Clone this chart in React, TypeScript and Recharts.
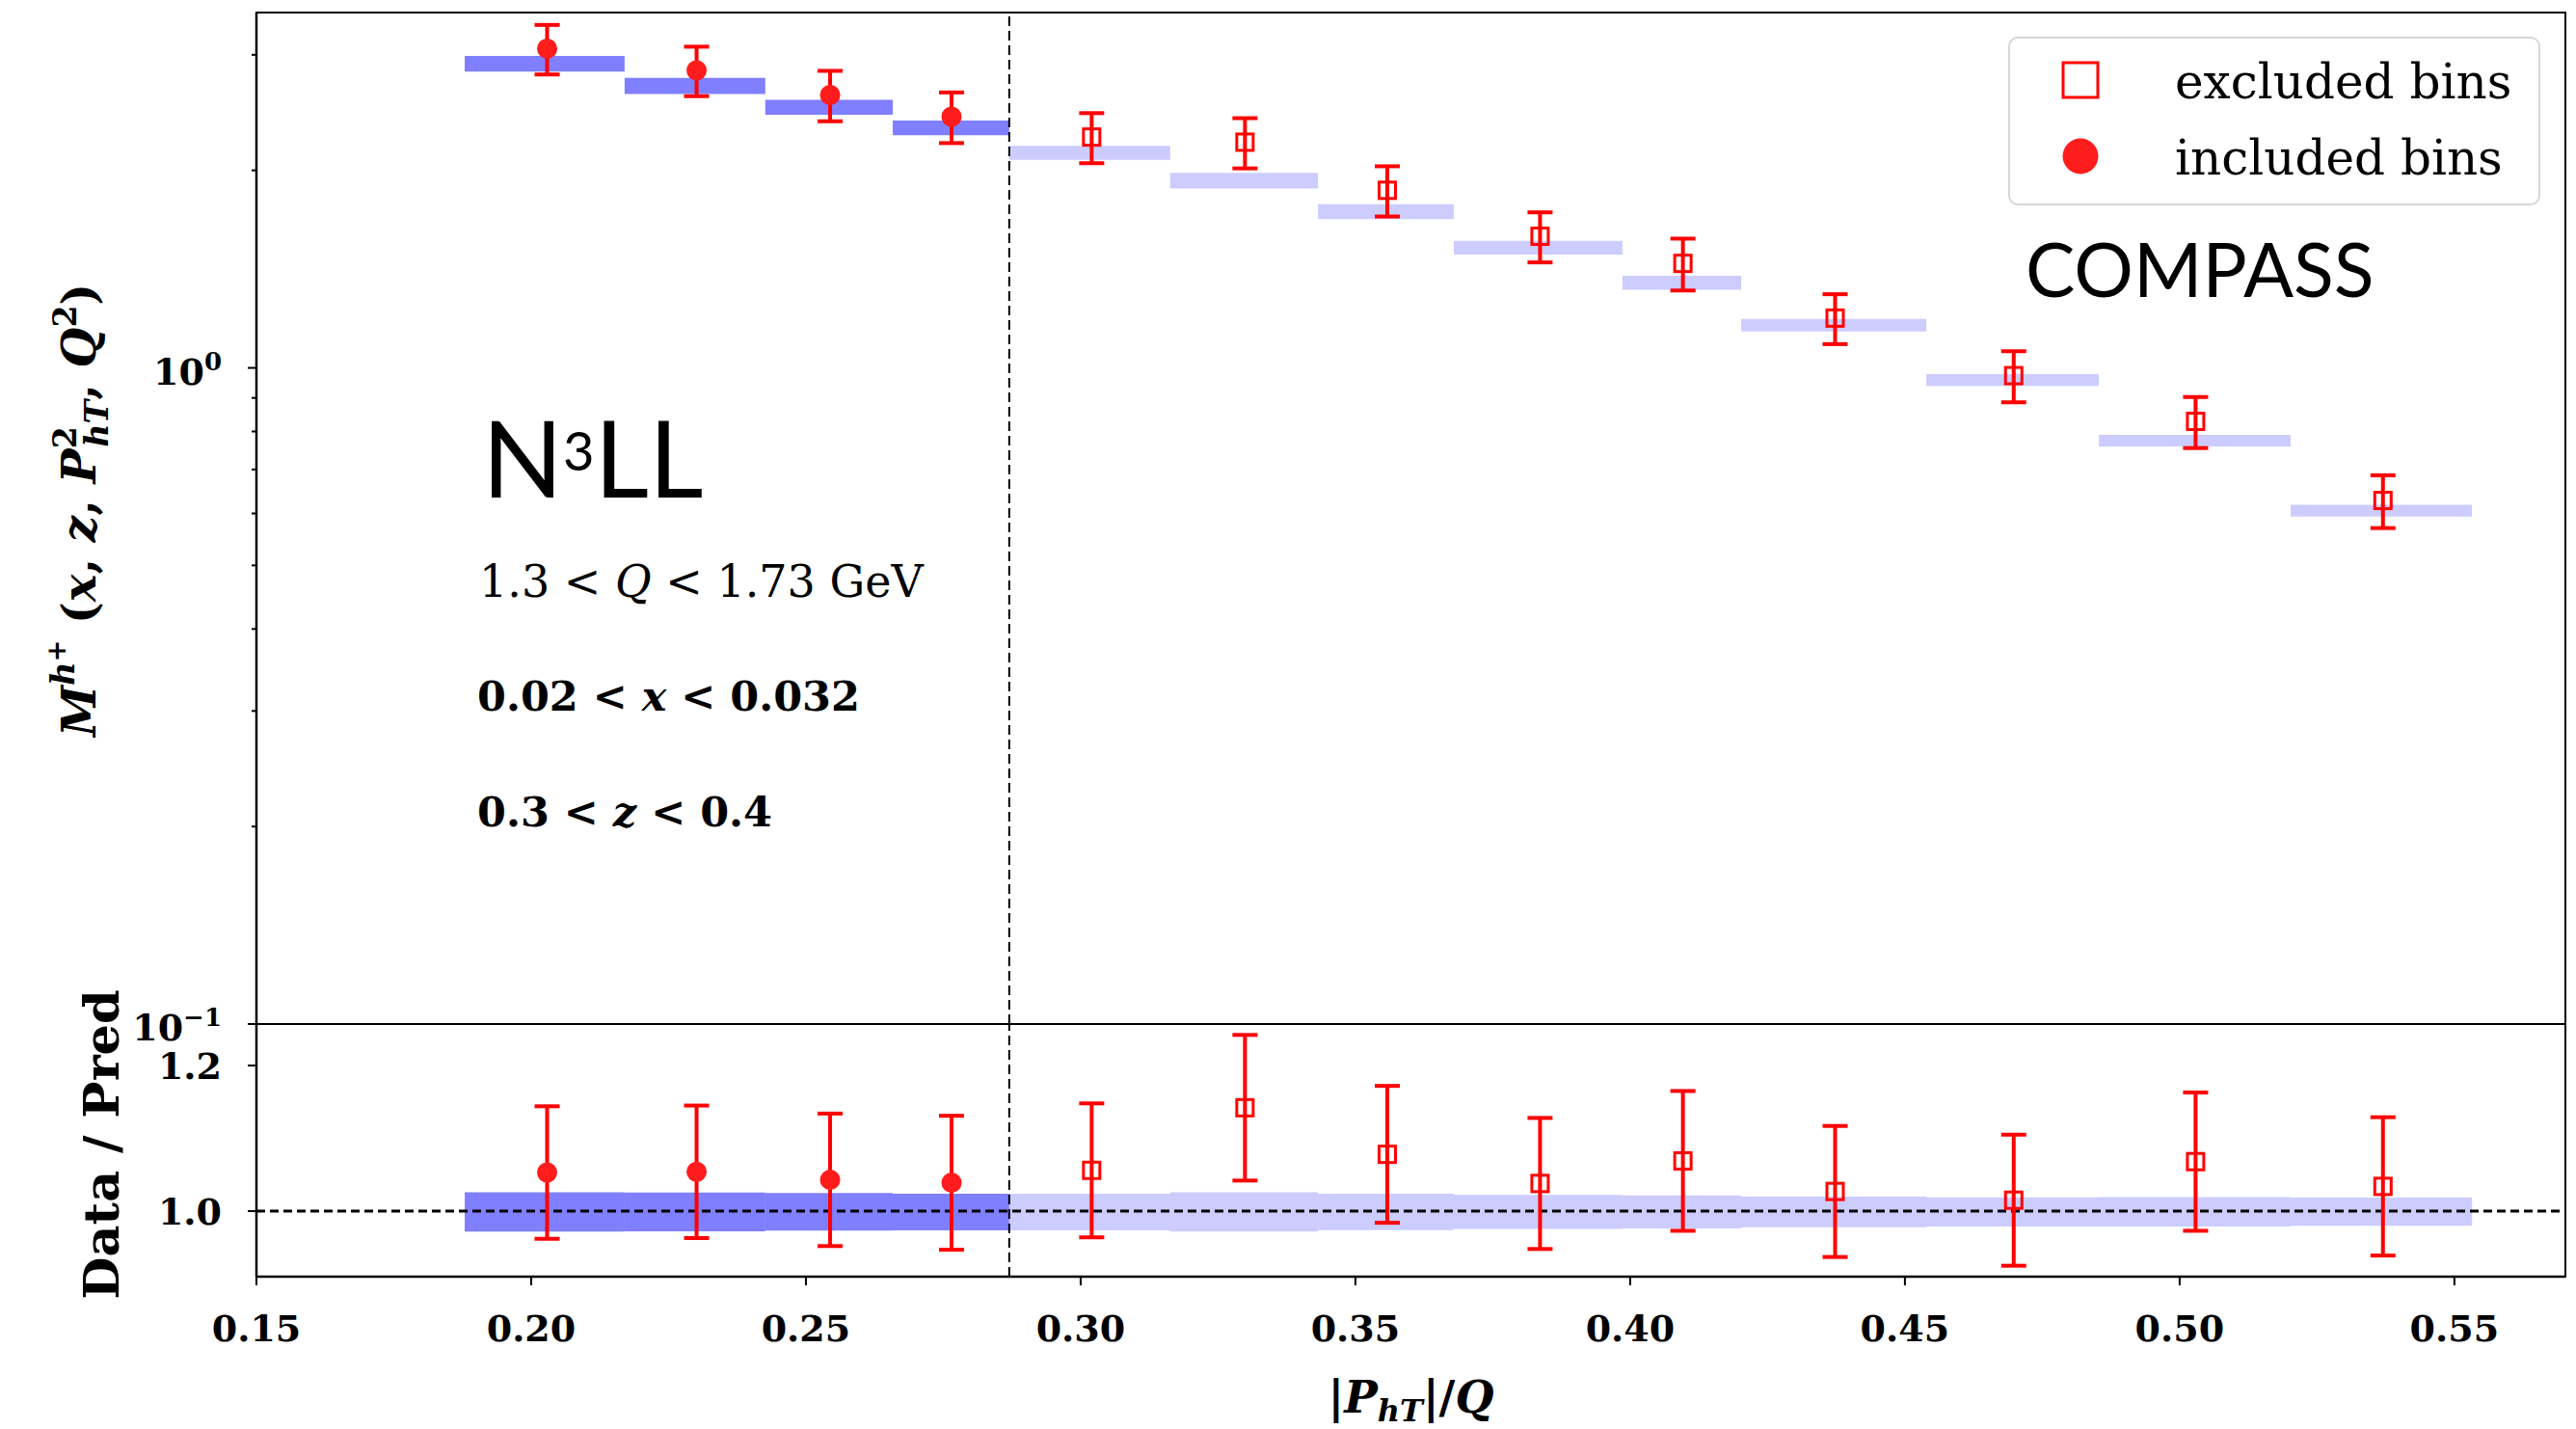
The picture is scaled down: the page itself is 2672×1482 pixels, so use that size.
import React from "react";
import {
  ComposedChart,
  Scatter,
  ErrorBar,
  XAxis,
  YAxis,
  ReferenceArea,
  ReferenceLine,
  Legend,
} from "recharts";

const WIDTH = 2672;
const HEIGHT = 1482;
const TOP_H = 1100;
const SPLIT = 1062;
const BOTTOM_H = 420;
const SERIF = "DejaVu Serif";
const SANS = "Lato";
const RED = "#ff0000";
const BLUE = "#0000ff";

const X_DOMAIN: [number, number] = [0.15, 0.5702];
const M_DOMAIN: [number, number] = [0.1, 3.48];
const R_DOMAIN: [number, number] = [0.91, 1.257];

// |P_hT|/Q bins
const binLow = [0.1879, 0.217, 0.2426, 0.2658, 0.287, 0.3163, 0.3432, 0.3679, 0.3986, 0.4202, 0.4539, 0.4853, 0.5202];
const binHigh = [0.217, 0.2426, 0.2658, 0.287, 0.3163, 0.3432, 0.3679, 0.3986, 0.4202, 0.4539, 0.4853, 0.5202, 0.5532];
const binMid = [0.2029, 0.2301, 0.2544, 0.2765, 0.302, 0.3299, 0.3558, 0.3836, 0.4096, 0.4373, 0.4698, 0.5029, 0.537];
const N_INCLUDED = 4;
const CUT = 0.287;

// multiplicity: data and prediction band
const dataM = [3.066, 2.841, 2.606, 2.415, 2.248, 2.208, 1.865, 1.587, 1.443, 1.191, 0.9732, 0.8288, 0.628];
const errM = [0.266, 0.246, 0.23, 0.214, 0.197, 0.194, 0.164, 0.139, 0.131, 0.104, 0.087, 0.074, 0.058];
const predLow = [2.828, 2.615, 2.431, 2.262, 2.075, 1.877, 1.686, 1.489, 1.315, 1.136, 0.9387, 0.759, 0.5932];
const predHigh = [2.988, 2.768, 2.563, 2.382, 2.18, 1.982, 1.776, 1.562, 1.382, 1.187, 0.9786, 0.7905, 0.6184];

// data / prediction
const ratio = [1.053, 1.054, 1.043, 1.039, 1.056, 1.142, 1.078, 1.038, 1.069, 1.027, 1.015, 1.068, 1.034];
const errRatio = [0.091, 0.091, 0.091, 0.092, 0.092, 0.1, 0.094, 0.09, 0.096, 0.09, 0.09, 0.095, 0.095];
const ratioLow = [0.9718, 0.9722, 0.9731, 0.9735, 0.9735, 0.972, 0.9739, 0.9757, 0.9762, 0.9779, 0.9788, 0.9788, 0.9797];
const ratioHigh = [1.026, 1.0256, 1.0248, 1.0238, 1.0238, 1.026, 1.0238, 1.0221, 1.0216, 1.0199, 1.019, 1.0194, 1.0185];

const xTicks = [0.15, 0.2, 0.25, 0.3, 0.35, 0.4, 0.45, 0.5, 0.55];
const logTicks = [0.1, 0.2, 0.3, 0.4, 0.5, 0.6, 0.7, 0.8, 0.9, 1, 2, 3];
const ratioTicks = [1.0, 1.2];

const Dot = (p: any) => <circle cx={p.cx} cy={p.cy} r={10.5} fill="#ff1c1c" />;
const OpenSquare = (p: any) => (
  <rect x={p.cx - 8.5} y={p.cy - 8.5} width={17} height={17} fill="none" stroke={RED} strokeWidth={3} />
);

const LogTick = ({ x, y, payload }: any) => {
  const e = Math.log10(payload.value);
  const major = Math.abs(e - Math.round(e)) < 1e-6;
  return (
    <g>
      <line x1={x - (major ? 9 : 5)} x2={x} y1={y} y2={y} stroke="#000" strokeWidth={2} />
      {major && (
        <text x={x - 36} y={y + 17} textAnchor="end" fontFamily={SERIF} fontWeight="bold" fontSize={38} fill="#000">
          10
          <tspan dy={-15} fontSize={26}>{Math.round(e) === 0 ? "0" : "\u22121"}</tspan>
        </text>
      )}
    </g>
  );
};

const RatioTick = ({ x, y, payload }: any) => (
  <g>
    <line x1={x - 9} x2={x} y1={y} y2={y} stroke="#000" strokeWidth={2} />
    <text x={x - 36} y={y + 14} textAnchor="end" fontFamily={SERIF} fontWeight="bold" fontSize={38} fill="#000">
      {payload.value.toFixed(1)}
    </text>
  </g>
);

const XTick = ({ x, y, payload }: any) => (
  <g>
    <line x1={x} x2={x} y1={y} y2={y + 9} stroke="#000" strokeWidth={2} />
    <text x={x} y={y + 67} textAnchor="middle" fontFamily={SERIF} fontWeight="bold" fontSize={38} fill="#000">
      {payload.value.toFixed(2)}
    </text>
  </g>
);

const TopYLabel = () => (
  <text
    transform="translate(99, 529) rotate(-90)"
    textAnchor="middle"
    fontFamily={SERIF}
    fontWeight="bold"
    fontSize={48}
    fill="#000"
  >
    <tspan fontStyle="italic">M</tspan>
    <tspan dy={-22} fontSize={34} fontStyle="italic">h</tspan>
    <tspan dy={-9} fontSize={27}>+</tspan>
    <tspan dy={31}>{" ("}</tspan>
    <tspan fontStyle="italic">x</tspan>
    <tspan>{", "}</tspan>
    <tspan fontStyle="italic">z</tspan>
    <tspan>{", "}</tspan>
    <tspan fontStyle="italic">P</tspan>
    <tspan dy={-20} fontSize={33}>2</tspan>
    <tspan dx={-21} dy={33} fontSize={33} fontStyle="italic">hT</tspan>
    <tspan dy={-13}>{", "}</tspan>
    <tspan fontStyle="italic">Q</tspan>
    <tspan dy={-20} fontSize={33}>2</tspan>
    <tspan dy={20}>)</tspan>
  </text>
);

const BottomYLabel = () => (
  <text
    transform="translate(123, 1187) rotate(-90)"
    textAnchor="middle"
    fontFamily={SERIF}
    fontWeight="bold"
    fontSize={51}
    fill="#000"
  >
    Data / Pred
  </text>
);

const XLabel = (props: any) => {
  const vb = props.viewBox || { x: 266, y: 262, width: 2395 };
  return (
    <text x={vb.x + vb.width / 2} y={vb.y + 141} textAnchor="middle" fontFamily={SERIF} fontWeight="bold" fontSize={46} fill="#000">
      <tspan>|</tspan>
      <tspan fontStyle="italic">P</tspan>
      <tspan fontStyle="italic" fontSize={32} dy={9}>hT</tspan>
      <tspan dy={-9}>|/</tspan>
      <tspan fontStyle="italic">Q</tspan>
    </text>
  );
};

const LEGEND_ORDER = ["excluded bins", "included bins"];

const LegendBox = (props: any) => {
  const names = (props.payload || []).map((p: any) => p.value);
  const items = LEGEND_ORDER.filter((n) => names.length === 0 || names.includes(n));
  return (
    <svg width={553} height={177}>
      <rect x={1} y={1} width={550} height={173} rx={9} fill="#fff" fillOpacity={0.8} stroke="#d6d6d6" strokeWidth={2} />
      {items.map((name, i) => {
        const cy = 45 + i * 79;
        return (
          <g key={name}>
            {name === "excluded bins" ? (
              <rect x={57} y={cy - 18} width={36} height={36} fill="none" stroke={RED} strokeWidth={3} />
            ) : (
              <circle cx={75} cy={cy} r={18.5} fill="#ff1c1c" />
            )}
            <text x={173} y={cy + 19} fontFamily={SERIF} fontSize={50} fill="#000">
              {name}
            </text>
          </g>
        );
      })}
    </svg>
  );
};

export default function App() {
  const topPoints = binMid.map((x, i) => ({ x, y: dataM[i], err: errM[i] }));
  const ratioPoints = binMid.map((x, i) => ({ x, y: ratio[i], err: errRatio[i] }));

  return (
    <div style={{ position: "absolute", left: 0, top: 0, width: WIDTH, height: HEIGHT, background: "#fff" }}>
      <div style={{ position: "absolute", left: 0, top: 0 }}>
        <ComposedChart width={WIDTH} height={TOP_H} margin={{ top: 13, right: 11, bottom: TOP_H - SPLIT, left: 0 }}>
          <XAxis type="number" dataKey="x" domain={X_DOMAIN} allowDataOverflow hide />
          <YAxis
            type="number"
            dataKey="y"
            scale="log"
            domain={M_DOMAIN}
            allowDataOverflow
            ticks={logTicks}
            interval={0}
            width={266}
            tickSize={0}
            tickMargin={0}
            tickLine={false}
            axisLine={{ stroke: "#000", strokeWidth: 2.5 }}
            tick={<LogTick />}
          />
          {binLow.map((lo, i) => (
            <ReferenceArea
              key={`pred-${i}`}
              x1={lo}
              x2={binHigh[i]}
              y1={predLow[i]}
              y2={predHigh[i]}
              fill={BLUE}
              fillOpacity={i < N_INCLUDED ? 0.5 : 0.2}
              stroke="none"
            />
          ))}
          <ReferenceLine x={CUT} stroke="#000" strokeDasharray="10 5" strokeWidth={2} />
          <ReferenceArea x1={X_DOMAIN[0]} x2={X_DOMAIN[1]} y1={M_DOMAIN[0]} y2={M_DOMAIN[1]} fill="none" stroke="#000" strokeWidth={2} />
          <Scatter name="excluded bins" data={topPoints.slice(N_INCLUDED)} fill={RED} shape={OpenSquare} isAnimationActive={false}>
            <ErrorBar dataKey="err" direction="y" width={13} stroke={RED} strokeWidth={4} isAnimationActive={false} />
          </Scatter>
          <Scatter name="included bins" data={topPoints.slice(0, N_INCLUDED)} fill="#ff1c1c" shape={Dot} isAnimationActive={false}>
            <ErrorBar dataKey="err" direction="y" width={13} stroke={RED} strokeWidth={4} isAnimationActive={false} />
          </Scatter>
          <Legend
            layout="vertical"
            align="center"
            verticalAlign="middle"
            content={LegendBox}
            wrapperStyle={{ left: 2083, top: 38 }}
          />
        </ComposedChart>
      </div>

      <div style={{ position: "absolute", left: 0, top: SPLIT }}>
        <ComposedChart width={WIDTH} height={BOTTOM_H} margin={{ top: 0, right: 11, bottom: 0, left: 0 }}>
          <XAxis
            type="number"
            dataKey="x"
            domain={X_DOMAIN}
            allowDataOverflow
            ticks={xTicks}
            interval={0}
            height={158}
            tickSize={0}
            tickMargin={0}
            tickLine={false}
            axisLine={{ stroke: "#000", strokeWidth: 2.5 }}
            tick={<XTick />}
            label={XLabel}
          />
          <YAxis
            type="number"
            dataKey="y"
            domain={R_DOMAIN}
            allowDataOverflow
            ticks={ratioTicks}
            interval={0}
            width={266}
            tickSize={0}
            tickMargin={0}
            tickLine={false}
            axisLine={{ stroke: "#000", strokeWidth: 2.5 }}
            tick={<RatioTick />}
          />
          {binLow.map((lo, i) => (
            <ReferenceArea
              key={`ratio-${i}`}
              x1={lo}
              x2={binHigh[i]}
              y1={ratioLow[i]}
              y2={ratioHigh[i]}
              fill={BLUE}
              fillOpacity={i < N_INCLUDED ? 0.5 : 0.2}
              stroke="none"
            />
          ))}
          <ReferenceLine y={1} stroke="#000" strokeDasharray="9 5" strokeWidth={3} />
          <ReferenceLine x={CUT} stroke="#000" strokeDasharray="10 5" strokeWidth={2} />
          <ReferenceArea x1={X_DOMAIN[0]} x2={X_DOMAIN[1]} y1={R_DOMAIN[0]} y2={R_DOMAIN[1]} fill="none" stroke="#000" strokeWidth={2} />
          <Scatter data={ratioPoints.slice(N_INCLUDED)} fill={RED} shape={OpenSquare} isAnimationActive={false} legendType="none">
            <ErrorBar dataKey="err" direction="y" width={13} stroke={RED} strokeWidth={4} isAnimationActive={false} />
          </Scatter>
          <Scatter data={ratioPoints.slice(0, N_INCLUDED)} fill="#ff1c1c" shape={Dot} isAnimationActive={false} legendType="none">
            <ErrorBar dataKey="err" direction="y" width={13} stroke={RED} strokeWidth={4} isAnimationActive={false} />
          </Scatter>
        </ComposedChart>
      </div>

      <svg
        width={WIDTH}
        height={HEIGHT}
        style={{ position: "absolute", left: 0, top: 0, pointerEvents: "none" }}
      >
        <TopYLabel />
        <BottomYLabel />
        <text x={500} y={516} fontFamily={SANS} fontSize={110} fill="#000">
          N
          <tspan dy={-28} fontSize={56}>3</tspan>
          <tspan dy={28}>LL</tspan>
        </text>
        <text x={497} y={619} fontFamily={SERIF} fontSize={46} fill="#000">
          {"1.3 < "}
          <tspan fontStyle="italic">Q</tspan>
          {" < 1.73 GeV"}
        </text>
        <text x={495} y={737} fontFamily={SERIF} fontWeight="bold" fontSize={43} fill="#000">
          {"0.02 < "}
          <tspan fontStyle="italic">x</tspan>
          {" < 0.032"}
        </text>
        <text x={495} y={857} fontFamily={SERIF} fontWeight="bold" fontSize={43} fill="#000">
          {"0.3 < "}
          <tspan fontStyle="italic">z</tspan>
          {" < 0.4"}
        </text>
        <text x={2101} y={308} fontFamily={SANS} fontSize={77} fill="#000">
          COMPASS
        </text>
      </svg>
    </div>
  );
}
